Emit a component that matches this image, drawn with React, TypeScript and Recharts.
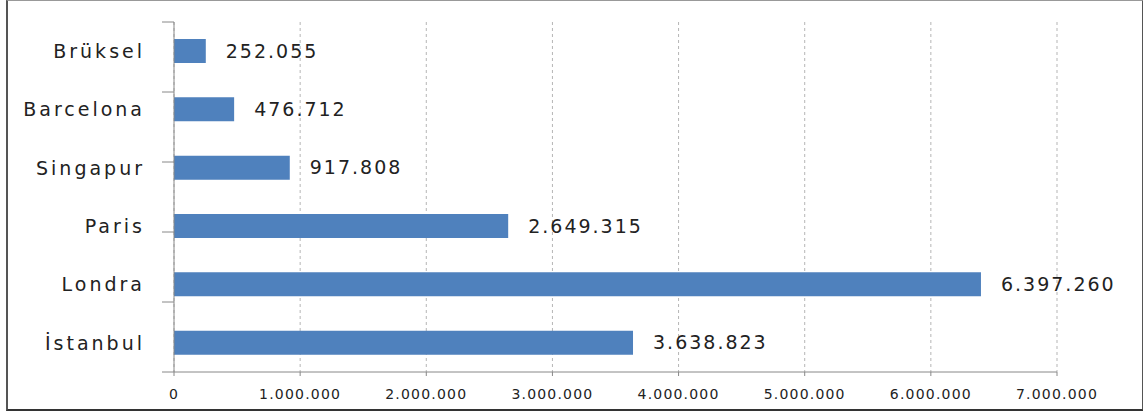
import { BarChart, Bar, XAxis, YAxis, CartesianGrid, LabelList } from 'recharts';

const cities = ['Brüksel', 'Barcelona', 'Singapur', 'Paris', 'Londra', 'İstanbul'];
const visitors = [252055, 476712, 917808, 2649315, 6397260, 3638823];
const xTicks = [0, 1000000, 2000000, 3000000, 4000000, 5000000, 6000000, 7000000];
const bandTicks = [0, 1, 2, 3, 4, 5, 6];

const data = cities.map((city, i) => ({ city, value: visitors[i] }));

const fmt = (n: number) => String(n).replace(/\B(?=(\d{3})+(?!\d))/g, '.');

const font = '"DejaVu Sans", Verdana, sans-serif';

export default function App() {
  return (
    <div style={{ position: 'absolute', left: 0, top: 0, width: 1143, height: 411, background: '#fff' }}>
      <div
        style={{
          position: 'absolute',
          left: 6,
          top: 0,
          width: 1134,
          height: 408,
          borderTop: '1px solid #999',
          borderLeft: '2px solid #555',
          borderRight: '2px solid #555',
          borderBottom: '2px solid #333',
        }}
      />
      <div style={{ position: 'absolute', left: 0, top: 0 }}>
        <BarChart
          width={1143}
          height={411}
          data={data}
          layout="vertical"
          margin={{ top: 22, right: 86, left: 14, bottom: 9 }}
          style={{ fontFamily: font }}
        >
          <CartesianGrid yAxisId="cat" horizontal={false} stroke="#b5b5b5" strokeDasharray="3 3" />
          <XAxis
            type="number"
            domain={[0, 7000000]}
            ticks={xTicks}
            tickFormatter={fmt}
            height={30}
            tickSize={4}
            tickMargin={13}
            axisLine={{ stroke: '#888' }}
            tickLine={{ stroke: '#888' }}
            tick={{ fill: '#222', fontSize: 14, letterSpacing: 1.2 }}
          />
          {/* only draws the axis line and the ticks between the bars */}
          <YAxis
            yAxisId="band"
            type="number"
            domain={[0, 6]}
            allowDataOverflow
            ticks={bandTicks}
            width={1}
            tickSize={12}
            tickFormatter={() => ''}
            axisLine={{ stroke: '#888' }}
            tickLine={{ stroke: '#888' }}
          />
          <YAxis
            yAxisId="cat"
            type="category"
            dataKey="city"
            width={159}
            axisLine={false}
            tickLine={false}
            tickMargin={22}
            tick={{ fill: '#222', fontSize: 19, letterSpacing: 3 }}
          />
          <Bar yAxisId="cat" dataKey="value" fill="#4f81bd" barSize={24} isAnimationActive={false}>
            <LabelList
              dataKey="value"
              position="right"
              offset={20}
              formatter={(v: any) => fmt(Number(v))}
              fill="#222"
              fontSize={19}
              letterSpacing={2}
            />
          </Bar>
        </BarChart>
      </div>
    </div>
  );
}
